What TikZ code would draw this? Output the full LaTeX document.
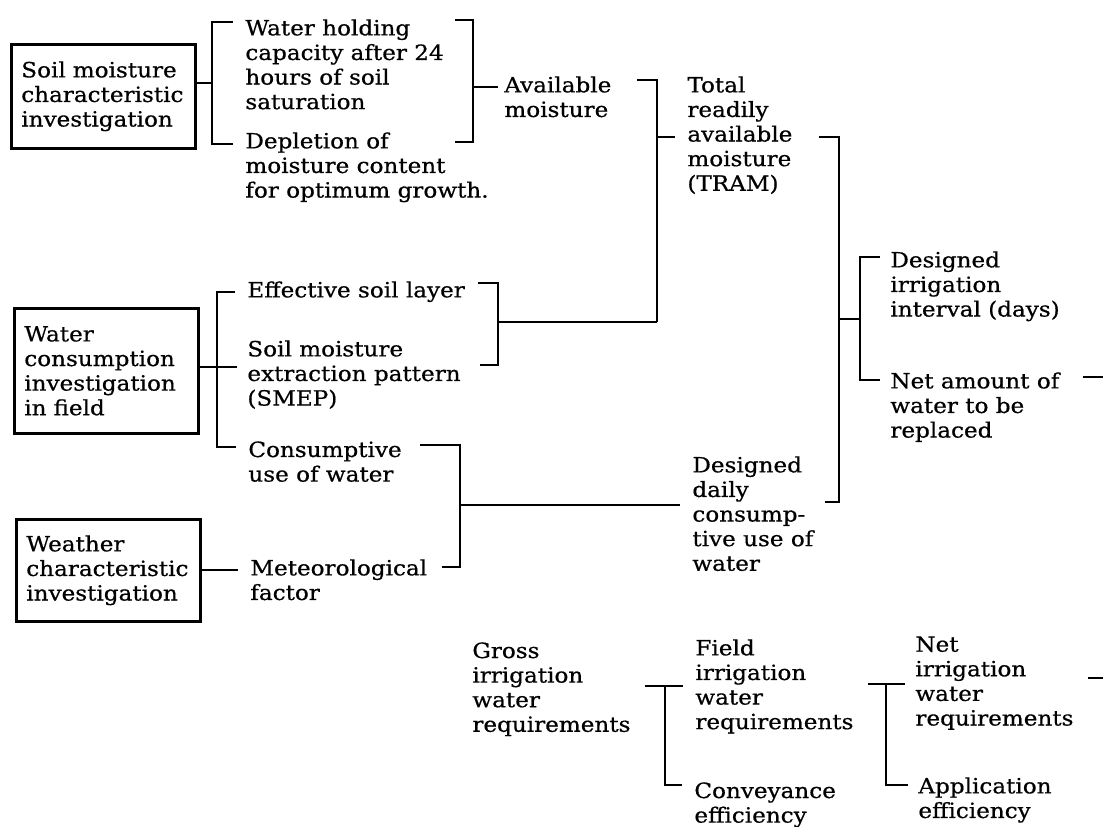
\documentclass[tikz,border=0pt]{standalone}
\usepackage{fontspec}
\setmainfont{DejaVu Serif}[FakeStretch=1.1, FakeBold=0.6]
\begin{document}
\begin{tikzpicture}[
  x=0.5pt, y=-0.5pt,
  font=\fontsize{10.5}{12.3}\selectfont,
  box/.style={draw, line width=1.3pt, align=left, anchor=north west, text width=82pt, inner xsep=5pt},
  txt/.style={align=left, anchor=north west, inner sep=0pt},
  wire/.style={line width=1.1pt},
]
\useasboundingbox (0,0) rectangle (1103,826);
% top row
\node[box, minimum height=52pt] (soil) at (10,43) {Soil moisture\\characteristic\\investigation};
\node[txt] (whc) at (245,19) {Water holding\\capacity after 24\\hours of soil\\saturation};
\node[txt] (depl) at (245,132) {Depletion of\\moisture content\\for optimum growth.};
\node[txt] (avail) at (504,76) {Available\\moisture};
\node[txt] (tram) at (687,76) {Total\\readily\\available\\moisture\\(TRAM)};
% middle rows
\node[box, minimum height=62.5pt] (wcif) at (13,307) {Water\\consumption\\investigation\\in field};
\node[txt] (effsl) at (247,281) {Effective soil layer};
\node[txt] (smep) at (247,340) {Soil moisture\\extraction pattern\\(SMEP)};
\node[txt] (cuw) at (248,441) {Consumptive\\use of water};
\node[box, minimum height=51pt] (wci) at (15,518) {Weather\\characteristic\\investigation};
\node[txt] (met) at (250,559) {Meteorological\\factor};
\node[txt] (ddcu) at (692,456) {Designed\\daily\\consump-\\tive use of\\water};
\node[txt] (dii) at (890,251) {Designed\\irrigation\\interval (days)};
\node[txt] (nawr) at (890,372) {Net amount of\\water to be\\replaced};
% bottom row
\node[txt] (girw) at (472,642) {Gross\\irrigation\\water\\requirements};
\node[txt] (firw) at (695,639) {Field\\irrigation\\water\\requirements};
\node[txt] (conv) at (694,782) {Conveyance\\efficiency};
\node[txt] (nirw) at (915,636) {Net\\irrigation\\water\\requirements};
\node[txt] (appl) at (918,777) {Application\\efficiency};

% soil moisture bracket
\coordinate (sA) at (212,83);
\draw[wire] (soil.east |- sA) -- (sA);
\draw[wire] ([shift={(-6pt,-1.5pt)}]whc.north west) -| (sA) |- ([shift={(-6pt,-6pt)}]depl.north west);
% available moisture bracket
\coordinate (sB) at (473,87);
\coordinate (sBt) at (455,20);
\coordinate (sBb) at (455,142);
\draw[wire] (sBt) -| (sB) |- (sBb);
\draw[wire] (sB) -- ([xshift=-3pt]sB -| avail.west);
% TRAM bracket
\coordinate (sC) at (657,322);
\coordinate (sCt) at (637,80);
\coordinate (sCm) at (657,137);
\draw[wire] (sCt) -| (sC);
\draw[wire] (sCm) -- ([xshift=-6pt]sCm -| tram.west);
% effective soil layer bracket
\coordinate (sD) at (498,322);
\coordinate (sDt) at (478,283);
\coordinate (sDb) at (480,365);
\draw[wire] (sDt) -| (sD) |- (sDb);
\draw[wire] (sD) -- (sC);
% water consumption bracket
\coordinate (sE) at (217,367);
\draw[wire] (wcif.east |- sE) -- ([xshift=-5pt]sE -| smep.west);
\draw[wire] ([xshift=-6pt]effsl.west) -| (sE) |- ([shift={(-6pt,-3pt)}]cuw.north west);
% consumptive use bracket
\coordinate (sF) at (460,505);
\coordinate (sFt) at (420,445);
\coordinate (sFb) at (442,567);
\draw[wire] (sFt) -| (sF) |- (sFb);
\draw[wire] (sF) -- ([xshift=-6pt]sF -| ddcu.west);
\draw[wire] (wci.east) -- ([xshift=-6pt]wci.east -| met.west);
% irrigation interval bracket
\coordinate (sH) at (839,319);
\coordinate (sHt) at (819,137);
\coordinate (sHb) at (825,502);
\coordinate (sI) at (860,319);
\draw[wire] (sHt) -| (sH) |- (sHb);
\draw[wire] (sH) -- (sI);
\draw[wire] ([shift={(-5pt,-3pt)}]dii.north west) -| (sI) |- ([shift={(-5pt,-4pt)}]nawr.north west);
\coordinate (oN) at (1083,377);
\draw[wire] (oN) -- ++(20,0);
% requirements brackets
\coordinate (sK) at (665,686);
\draw[wire] ([xshift=7pt]girw.east |- sK) -- ([xshift=-6pt]sK -| firw.west);
\draw[wire] (sK) |- ([shift={(-6pt,-1.5pt)}]conv.north west);
\coordinate (sL) at (886,684);
\draw[wire] ([xshift=7pt]firw.east |- sL) -- ([xshift=-5pt]sL -| nirw.west);
\draw[wire] (sL) |- ([shift={(-5pt,-4pt)}]appl.north west);
\coordinate (oG) at (1088,678);
\draw[wire] (oG) -- ++(15,0);
\end{tikzpicture}
\end{document}
